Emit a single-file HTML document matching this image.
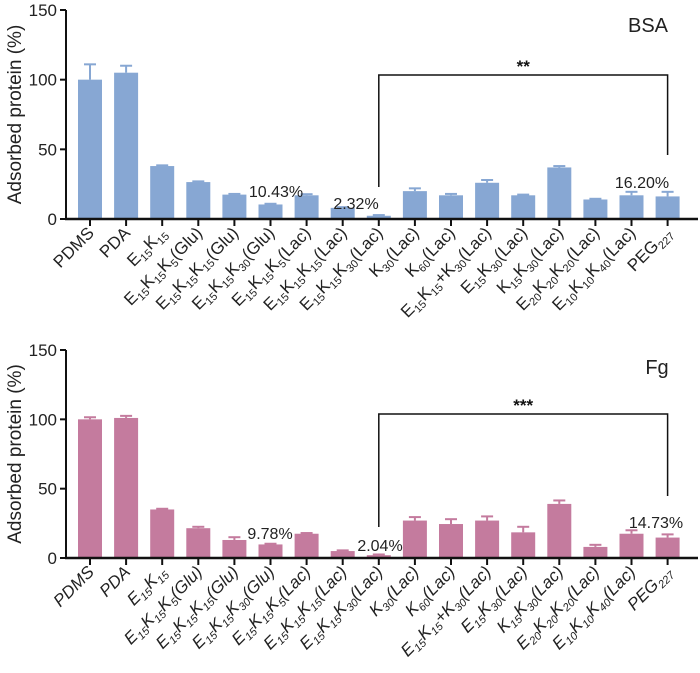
<!DOCTYPE html>
<html><head><meta charset="utf-8"><style>
html,body{margin:0;padding:0;background:#fff;}
svg{display:block;font-family:"Liberation Sans",Arial,sans-serif;}
</style></head><body>
<svg id="c" width="700" height="673" viewBox="0 0 700 673"></svg>
<script>
const categories = ["PDMS","PDA","E_15K_15","E_15K_15K_5(Glu)","E_15K_15K_15(Glu)","E_15K_15K_30(Glu)","E_15K_15K_5(Lac)","E_15K_15K_15(Lac)","E_15K_15K_30(Lac)","K_30(Lac)","K_60(Lac)","E_15K_15+K_30(Lac)","E_15K_30(Lac)","K_15K_30(Lac)","E_20K_20K_20(Lac)","E_10K_10K_40(Lac)","PEG_227"];
const bsaValues = [100,105,38,26.5,17.5,10.43,17,8,2.32,20,17,26,17,37,14,17,16.2];
const bsaErrors = [11,5,0.5,0.5,0.5,0.5,0.8,0.5,0.5,2,1,2,0.5,1,0.5,2.5,3.3];
const fgValues = [100,101,35,21.5,13,9.78,17.5,5,2.04,27,24.5,27,18.5,39,8,17.5,14.73];
const fgErrors = [1.5,1.5,0.5,1,2,0.5,0.5,0.5,0.5,2.5,3.5,3,4,2.5,1.5,2.5,2.3];
const yTicks = [0,50,100,150];
const panels = [
 {name:"bsa",title:"BSA",vals:bsaValues,errs:bsaErrors,color:"#87a7d3",base:219,top:10,italic:false,stars:"**",
  bracketY:75,leftDrop:187,rightDrop:155,titleX:648,titleY:32,
  notes:[[5,"10.43%",276,197],[8,"2.32%",356,209],[16,"16.20%",642,188]]},
 {name:"fg",title:"Fg",vals:fgValues,errs:fgErrors,color:"#c47b9e",base:558,top:350,italic:true,stars:"***",
  bracketY:414,leftDrop:527,rightDrop:496,titleX:657,titleY:374,
  notes:[[5,"9.78%",270,539],[8,"2.04%",380,551],[16,"14.73%",656,528]]}
];
const NS="http://www.w3.org/2000/svg";
const svg=document.getElementById("c");
function el(tag,attrs,parent){const e=document.createElementNS(NS,tag);for(const k in attrs)e.setAttribute(k,attrs[k]);(parent||svg).appendChild(e);return e;}
const x0=90, step=36.1, bw=24;
function xPos(i){return x0+i*step;}
panels.forEach(p=>{
  const g=el("g",{});
  
  
  const y=v=>p.base-(v/150)*(p.base-p.top);
  p.vals.forEach((v,i)=>{
    const cx=xPos(i);
    const r=el("rect",{x:cx-bw/2,y:y(v),width:bw,height:p.base-y(v),fill:p.color},g);
    
    
    const ye=y(v+p.errs[i]);
    const e1=el("line",{x1:cx,x2:cx,y1:y(v),y2:ye,stroke:p.color,"stroke-width":2},g);
    
    
    el("line",{x1:cx-6,x2:cx+6,y1:ye,y2:ye,stroke:p.color,"stroke-width":2},g);
  });
  const ya=el("line",{x1:66,x2:66,y1:p.top,y2:p.base+1,stroke:"#111","stroke-width":2},g);
  
  
  const xa=el("line",{x1:65,x2:698,y1:p.base,y2:p.base,stroke:"#111","stroke-width":2.5},g);
  
  
  yTicks.forEach(t=>{
    el("line",{x1:60,x2:66,y1:y(t),y2:y(t),stroke:"#111","stroke-width":2},g);
    const tl=el("text",{x:57,y:y(t)+6,"text-anchor":"end","font-size":17,fill:"#222"},g);
    tl.textContent=t;
    
    
  });
  const yt=el("text",{transform:`translate(21,${(p.base+p.top)/2}) rotate(-90)`,"text-anchor":"middle","font-size":19,fill:"#222"},g);
  yt.textContent="Adsorbed protein (%)";
  
  
  categories.forEach((c,i)=>{
    const cx=xPos(i);
    el("line",{x1:cx,x2:cx,y1:p.base,y2:p.base+7,stroke:"#111","stroke-width":2},g);
    const t=el("text",{transform:`translate(${cx+5},${p.base+15}) rotate(-45)`,"text-anchor":"end","font-size":17,fill:"#222","font-style":p.italic?"italic":"normal"},g);
    
    
    let sub=false;
    c.split(/(_\d+)/).forEach(s=>{
      if(!s)return;
      if(s[0]==="_"){const ts=el("tspan",{"font-size":11,dy:sub?0:4},t);ts.textContent=s.slice(1);sub=true;}
      else{const ts=el("tspan",{dy:sub?-4:0},t);ts.textContent=s;sub=false;}
    });
  });
  const br=el("path",{d:`M${xPos(8)} ${p.leftDrop} V${p.bracketY} H${xPos(16)} V${p.rightDrop}`,fill:"none",stroke:"#111","stroke-width":1.5},g);
  
  
  const st=el("text",{x:(xPos(8)+xPos(16))/2,y:p.bracketY-3,"text-anchor":"middle","font-size":17,"font-weight":"bold",fill:"#111"},g);
  st.textContent=p.stars;
  
  
  const ti=el("text",{x:p.titleX,y:p.titleY,"text-anchor":"middle","font-size":20,fill:"#222"},g);
  ti.textContent=p.title;
  
  
  p.notes.forEach(n=>{
    const a=el("text",{x:n[2],y:n[3],"text-anchor":"middle","font-size":16,fill:"#222"},g);
    a.textContent=n[1];
    
    
  });
});
</script>
</body></html>
